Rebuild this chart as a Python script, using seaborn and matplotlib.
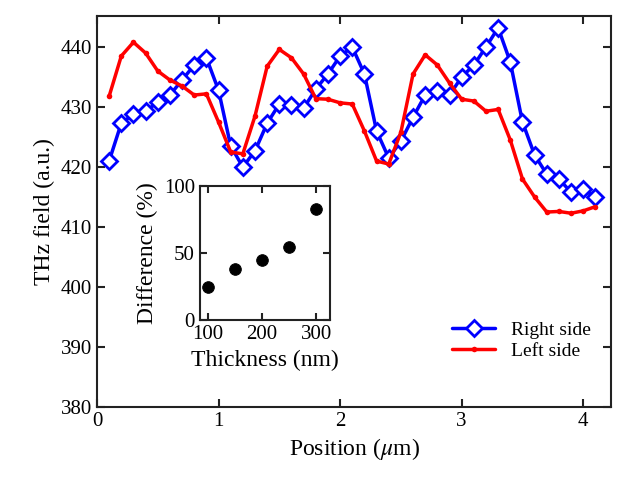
import numpy as np
import pandas as pd
import seaborn as sns
import matplotlib
matplotlib.use('Agg')
import matplotlib.pyplot as plt

position = [round(0.1 * i, 1) for i in range(1, 42)]
right_side = [421, 427.3, 428.8, 429.3, 430.8, 432, 434.5, 437, 438.2, 432.8,
              423.5, 420, 422.7, 427.3, 430.5, 430.3, 429.8, 433, 435.5, 438.5,
              440, 435.5, 426, 421.5, 424.3, 428.3, 432, 432.7, 432, 435,
              437, 440, 443.2, 437.5, 427.5, 422, 418.8, 418, 415.8, 416.3, 415]
left_side = [431.8, 438.5, 440.8, 439, 436, 434.5, 433.5, 432, 432.2, 427.5,
             422.5, 422.2, 428.5, 436.8, 439.6, 438.2, 435.5, 431.4, 431.3, 430.7,
             430.5, 426, 421, 420.5, 425.8, 435.5, 438.7, 437, 434, 431.3,
             431, 429.3, 429.6, 424.5, 418, 415, 412.5, 412.6, 412.3, 412.7, 413.4]
thickness = [100, 150, 200, 250, 300]
difference = [25, 38, 45, 55, 83]

sns.set_theme(style='ticks')
plt.rcParams['font.family'] = ['Liberation Serif', 'DejaVu Serif']
plt.rcParams['mathtext.fontset'] = 'stix'
plt.rcParams['text.color'] = 'black'
plt.rcParams['axes.labelcolor'] = 'black'
plt.rcParams['axes.edgecolor'] = '#222222'
plt.rcParams['xtick.color'] = '#222222'
plt.rcParams['ytick.color'] = '#222222'
plt.rcParams['xtick.labelcolor'] = 'black'
plt.rcParams['ytick.labelcolor'] = 'black'

fig = plt.figure(figsize=(6.38, 4.8), dpi=100)
ax = fig.add_axes([0.152, 0.152, 0.806, 0.815])
sns.lineplot(x=position, y=right_side, ax=ax, color='#0000ff', lw=2.5, marker='D',
             markersize=8, markerfacecolor='white', markeredgecolor='#0000ff',
             markeredgewidth=2, label='Right side')
sns.lineplot(x=position, y=left_side, ax=ax, color='#ff0000', lw=2.5, marker='o',
             markersize=4, markeredgewidth=0, label='Left side')
ax.set_xlim(0, 4.23)
ax.set_ylim(380, 445.2)
ax.set_xticks([0, 1, 2, 3, 4])
ax.set_yticks(range(380, 441, 10))
ax.set_xlabel('Position ($\\mu$m)', fontsize=17)
ax.set_ylabel('THz field (a.u.)', fontsize=17)
ax.tick_params(labelsize=15, direction='in', top=True, right=True, width=1.5, length=6)
for s in ax.spines.values():
    s.set_linewidth(1.5)
ax.legend(loc='lower right', frameon=False, fontsize=14, handlelength=2.2,
          borderpad=0.3, labelspacing=0.2, bbox_to_anchor=(0.99, 0.08))

ins = fig.add_axes([0.313, 0.333, 0.204, 0.279])
sns.scatterplot(x=thickness, y=difference, ax=ins, color='black', s=70, edgecolor='black')
ins.set_xlim(85, 325)
ins.set_ylim(0, 100)
ins.set_xticks([100, 200, 300])
ins.set_yticks([0, 50, 100])
ins.set_xlabel('Thickness (nm)', fontsize=17)
ins.set_ylabel('Difference (%)', fontsize=17)
ins.tick_params(labelsize=15, direction='in', top=True, right=True, width=1.5, length=5)
for s in ins.spines.values():
    s.set_linewidth(1.5)

fig.savefig('out.png', dpi=100)
